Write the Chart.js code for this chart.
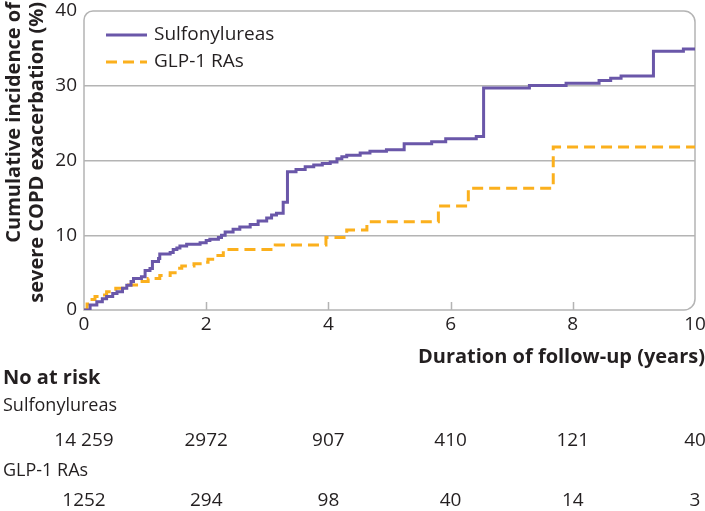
<!DOCTYPE html>
<html>
<head>
<meta charset="utf-8">
<script src="https://cdn.jsdelivr.net/npm/chart.js@4.4.1/dist/chart.umd.min.js"></script>
<style>
  html, body { margin: 0; padding: 0; background: #fff; }
  #wrap { width: 705px; height: 511px; }
</style>
</head>
<body>
<div id="wrap"><canvas id="km" width="705" height="511"></canvas></div>
<script>
// Kaplan-Meier style cumulative incidence
const sulfTimes = [0, 0.1, 0.21, 0.3, 0.37, 0.47, 0.54, 0.63, 0.7, 0.77, 0.81, 0.94, 1.0, 1.08, 1.12, 1.22, 1.24,
  1.41, 1.46, 1.52, 1.57, 1.68, 1.9, 2.0, 2.06, 2.2, 2.25, 2.31, 2.44, 2.55, 2.72, 2.85, 2.99, 3.07, 3.15, 3.26,
  3.33, 3.47, 3.62, 3.76, 3.9, 4.03, 4.14, 4.22, 4.3, 4.52, 4.68, 4.95, 5.24, 5.69, 5.92, 6.42, 6.54, 7.29, 7.89,
  8.43, 8.62, 8.79, 9.32, 9.81, 10];
const sulfValues = [0, 0.67, 1.1, 1.5, 1.8, 2.2, 2.45, 2.9, 3.3, 3.8, 4.2, 4.45, 5.3, 5.55, 6.5, 6.9, 7.5,
  7.7, 8.1, 8.3, 8.55, 8.8, 9.0, 9.3, 9.45, 9.7, 10.0, 10.45, 10.8, 11.1, 11.45, 11.9, 12.3, 12.7, 12.95, 14.4,
  18.5, 18.8, 19.15, 19.4, 19.6, 19.8, 20.25, 20.5, 20.7, 21.0, 21.25, 21.45, 22.25, 22.5, 22.9, 23.2, 29.7, 30.05, 30.35,
  30.7, 31.0, 31.3, 34.6, 34.9, 34.9];

const glpTimes = [0, 0.05, 0.1, 0.18, 0.26, 0.37, 0.52, 0.68, 0.86, 1.05, 1.24, 1.41, 1.52, 1.6, 1.8, 1.98, 2.03,
  2.14, 2.28, 2.34, 3.13, 3.96, 4.3, 4.63, 5.8, 6.29, 7.68, 10];
const glpValues = [0, 0.8, 1.4, 1.8, 2.0, 2.45, 2.9, 3.35, 3.8, 4.2, 4.6, 5.0, 5.6, 5.9, 6.2, 6.4, 6.8,
  7.3, 7.9, 8.1, 8.7, 9.7, 10.7, 11.8, 13.9, 16.3, 21.8, 21.8];

// number at risk table
const riskYears = [0, 2, 4, 6, 8, 10];
const sulfAtRisk = ['14 259', '2972', '907', '410', '121', '40'];
const glpAtRisk = ['1252', '294', '98', '40', '14', '3'];
const innerTicks = [2, 4, 6, 8];
const yTitle = ['Cumulative incidence of', 'severe COPD exacerbation (%)'];

const PURPLE = '#6a57a9';
const ORANGE = '#fbb01d';
const GREY = '#b4b4b4';
const TEXT = '#231f20';
const FONT = '"Open Sans", "Noto Sans", sans-serif';

function toPoints(ts, vs) {
  return ts.map((t, i) => ({ x: t, y: vs[i] }));
}

// rounded frame + inward ticks on x axis
const framePlugin = {
  id: 'frame',
  beforeDatasetsDraw(chart) {
    const { ctx, chartArea: a, scales } = chart;
    ctx.save();
    ctx.strokeStyle = GREY;
    ctx.lineWidth = 1.5;
    ctx.beginPath();
    ctx.roundRect(a.left, a.top, a.right - a.left, a.bottom - a.top, [9, 11, 11, 0]);
    ctx.stroke();
    ctx.beginPath();
    innerTicks.forEach(v => {
      const x = Math.round(scales.x.getPixelForValue(v)) + 0.5;
      ctx.moveTo(x, a.bottom);
      ctx.lineTo(x, a.bottom - 8);
    });
    ctx.stroke();
    ctx.restore();
  },
  afterDraw(chart) {
    const { ctx, chartArea: a, scales } = chart;
    ctx.save();
    // legend inside the plot
    chart.data.datasets.forEach((ds, i) => {
      const y = a.top + 24 + i * 27;
      ctx.strokeStyle = ds.borderColor;
      ctx.lineWidth = 3;
      ctx.setLineDash(ds.borderDash || []);
      ctx.beginPath();
      ctx.moveTo(a.left + 22, y);
      ctx.lineTo(a.left + 63, y);
      ctx.stroke();
      ctx.setLineDash([]);
      ctx.fillStyle = TEXT;
      ctx.font = '19px ' + FONT;
      ctx.textBaseline = 'middle';
      ctx.textAlign = 'left';
      ctx.fillText(ds.label, a.left + 70, y);
    });
    // y axis title, both lines end at the top
    ctx.font = 'bold 20px ' + FONT;
    ctx.textBaseline = 'alphabetic';
    ctx.textAlign = 'right';
    yTitle.forEach((line, i) => {
      ctx.save();
      ctx.translate(20 + i * 23, 2);
      ctx.rotate(-Math.PI / 2);
      ctx.fillText(line, 0, 0);
      ctx.restore();
    });
    // x axis title
    ctx.textBaseline = 'middle';
    ctx.fillText('Duration of follow-up (years)', 705, 357);
    // at risk table
    ctx.textAlign = 'left';
    ctx.fillText('No at risk', 3, 378);
    ctx.font = '18px ' + FONT;
    ctx.fillText('Sulfonylureas', 3, 406);
    ctx.fillText('GLP-1 RAs', 3, 471);
    ctx.textAlign = 'center';
    ctx.font = '19px ' + FONT;
    riskYears.forEach((yr, i) => {
      const x = scales.x.getPixelForValue(yr);
      ctx.fillText(sulfAtRisk[i], x, 441);
      ctx.fillText(glpAtRisk[i], x, 501);
    });
    ctx.restore();
  }
};

new Chart(document.getElementById('km'), {
  type: 'line',
  data: {
    datasets: [
      {
        label: 'Sulfonylureas',
        data: toPoints(sulfTimes, sulfValues),
        borderColor: PURPLE,
        borderWidth: 3,
        stepped: 'before',
        pointRadius: 0,
        fill: false
      },
      {
        label: 'GLP-1 RAs',
        data: toPoints(glpTimes, glpValues),
        borderColor: ORANGE,
        borderWidth: 3,
        borderDash: [11, 6],
        stepped: 'before',
        pointRadius: 0,
        fill: false
      }
    ]
  },
  options: {
    responsive: false,
    animation: false,
    layout: { padding: { left: 0, top: 11, right: 10, bottom: 0 } },
    plugins: { legend: { display: false }, tooltip: { enabled: false } },
    scales: {
      x: {
        type: 'linear',
        min: 0,
        max: 10,
        afterFit: s => { s.height = 201; s.paddingLeft = 0; s.paddingRight = 0; },
        grid: { display: false },
        border: { display: false },
        ticks: { stepSize: 2, padding: -5, color: TEXT, font: { family: FONT, size: 19 } }
      },
      y: {
        min: 0,
        max: 40,
        afterFit: s => { s.width = 84; s.paddingTop = 0; s.paddingBottom = 0; },
        grid: {
          drawTicks: false,
          lineWidth: 1.5,
          color: c => (c.tick && c.tick.value > 0 && c.tick.value < 40) ? GREY : 'rgba(0,0,0,0)'
        },
        border: { display: false },
        ticks: { stepSize: 10, padding: 7, color: TEXT, font: { family: FONT, size: 19 } }
      }
    }
  },
  plugins: [framePlugin]
});
</script>
</body>
</html>
